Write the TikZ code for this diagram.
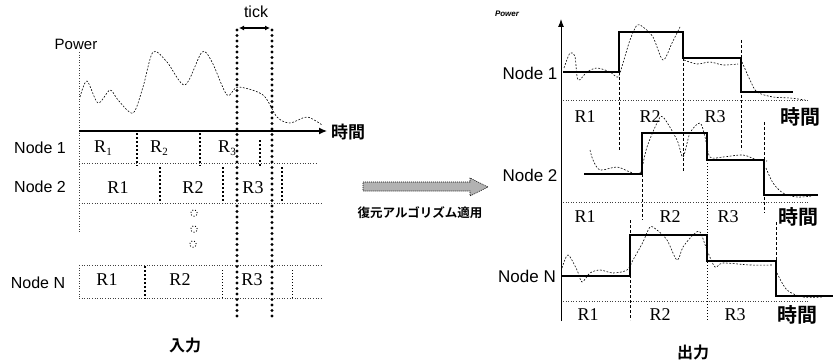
\documentclass[tikz,border=0pt]{standalone}
\usepackage{fontspec}
\setmainfont{Liberation Serif}
\setsansfont{Liberation Sans}
\newfontfamily\cjkb{Noto Sans CJK JP Bold}
\usetikzlibrary{arrows.meta}
\newcommand{\rsub}[1]{R\raisebox{-3pt}{\fontsize{11}{11}\selectfont #1}}
\begin{document}
\begin{tikzpicture}[x=1pt,y=-1pt,
  lbl/.style={font=\sffamily\fontsize{16}{18}\selectfont, inner sep=0},
  rl/.style={font=\rmfamily\fontsize{18}{20}\selectfont, inner sep=0},
  jp/.style={font=\cjkb\fontsize{17}{19}\selectfont, inner sep=0},
  jpbig/.style={font=\cjkb\fontsize{20}{22}\selectfont, inner sep=0},
  thindot/.style={line width=0.6pt, dash pattern=on 1pt off 1.6pt, black!75},
  divline/.style={line width=1.2pt, dash pattern=on 2pt off 2pt},
  tickline/.style={line width=3.4pt, dash pattern=on 0pt off 5.5pt, line cap=round},
  stepline/.style={line width=1.8pt},
  noise/.style={line width=0.6pt, dash pattern=on 1.8pt off 1.6pt},
  vdash/.style={line width=0.9pt, dash pattern=on 3pt off 2pt},
  vdot/.style={line width=0.8pt, dash pattern=on 1pt off 2pt},
  dotcirc/.style={circle, draw, dotted, line width=0.9pt, minimum size=6.5pt, inner sep=0},
]
\useasboundingbox (0,0) rectangle (833,361);

% ---------------- left panel ----------------
\node[lbl, font=\sffamily\fontsize{15}{17}\selectfont] (pw) at (76,44) {Power};
\draw[thindot] (79,52) -- (79,232);
\draw[noise] plot[smooth] coordinates {(80,97) (87,81) (98,103) (110,90) (118,100) (133,113) (143,87) (153,52) (167,62) (185,85) (202,52) (212,62) (227,95) (238,87) (263,95) (277,117) (290,123) (307,117) (322,125)};
\coordinate (ax0) at (79,131);
\coordinate (ax1) at (327,131);
\draw[line width=1.2pt, -{Latex[length=8pt,width=7pt]}] (ax0) -- (ax1);
\node[jp, anchor=west] (tL) at (331,132) {時間};

% tick
\coordinate (t1a) at (237,30); \coordinate (t1b) at (237,316);
\coordinate (t2a) at (272,30); \coordinate (t2b) at (272,316);
\draw[tickline] (t1a) -- (t1b);
\draw[tickline] (t2a) -- (t2b);
\coordinate (ta) at (239,28); \coordinate (tb) at (270,28);
\draw[line width=1.3pt, {Latex[length=5pt,width=5pt]}-{Latex[length=5pt,width=5pt]}] (ta) -- (tb);
\node[lbl] (tick) at (256,12) {tick};

% rows
\node[lbl] (n1) at (40,148) {Node 1};
\node[lbl] (n2) at (40,187) {Node 2};
\node[lbl] (nN) at (38,283) {Node N};

\draw[thindot] (79,163) -- (318,163);
\draw[thindot] (79,203) -- (323,203);
\draw[thindot] (79,265) -- (323,265);
\draw[thindot] (79,298) -- (323,298);
\draw[thindot] (79,265) -- (79,298);

\draw[divline] (137,133) -- (137,166);
\draw[divline] (200,133) -- (200,166);
\draw[divline] (260,140) -- (260,166);
\draw[divline] (160,167) -- (160,203);
\draw[divline] (223,167) -- (223,203);
\draw[divline] (282,167) -- (282,203);
\draw[divline] (145,266) -- (145,299);
\draw[vdot] (222,270) -- (222,298);
\draw[vdot] (292,270) -- (292,298);

\node[rl] (a1) at (103,148) {\rsub{1}};
\node[rl] (a2) at (159,148) {\rsub{2}};
\node[rl] (a3) at (227,148) {\rsub{3}};
\node[rl] (b1) at (118,188) {R1};
\node[rl] (b2) at (193,188) {R2};
\node[rl] (b3) at (253,188) {R3};
\node[rl] (c1) at (107,280) {R1};
\node[rl] (c2) at (180,280) {R2};
\node[rl] (c3) at (252,280) {R3};

\node[dotcirc] (o1) at (194,213) {};
\node[dotcirc] (o2) at (194,229) {};
\node[dotcirc] (o3) at (193,244) {};

\node[font=\cjkb\fontsize{16}{18}\selectfont, inner sep=0] (in) at (185,345) {入力};

% ---------------- middle arrow ----------------
\draw[line width=0.6pt, dash pattern=on 1pt off 1pt, fill=black!30]
  (363,182) -- (470,182) -- (470,178) -- (488,187) -- (470,196) -- (470,191) -- (363,191) -- cycle;
\node[font=\cjkb\fontsize{12.5}{14}\selectfont, inner sep=0] (alg) at (420,213) {復元アルゴリズム適用};

% ---------------- right panel ----------------
\node[font=\sffamily\bfseries\itshape\fontsize{8}{9}\selectfont, inner sep=0] (pw2) at (507,14) {Power};
\coordinate (y0) at (561,321);
\coordinate (y1) at (561,19);
\draw[line width=1pt, -{Latex[length=8pt,width=6pt]}] (y0) -- (y1);

\node[lbl, font=\sffamily\fontsize{17}{19}\selectfont] (m1) at (530,73) {Node 1};
\node[lbl, font=\sffamily\fontsize{17}{19}\selectfont] (m2) at (530,175) {Node 2};
\node[lbl, font=\sffamily\fontsize{17}{19}\selectfont] (mN) at (527,276) {Node N};

% Node 1
\draw[stepline] (563,72) -- (619,72) -- (619,32) -- (683,32) -- (683,58) -- (741,58) -- (741,92) -- (793,92);
\draw[noise] plot[smooth] coordinates {(564,68) (570,53) (575,57) (578,80) (587,72) (597,68) (610,72) (618,77) (623,63) (630,40) (637,25) (643,27) (653,37) (663,60) (672,43) (680,27)};
\draw[noise] plot[smooth] coordinates {(684,60) (697,64) (710,62) (723,65) (738,64)};
\draw[noise] plot[smooth] coordinates {(742,62) (750,80) (757,92) (773,97) (790,98) (805,100)};
\draw[thindot] (563,100) -- (808,100);
\draw[vdash] (619,72) -- (619,150);
\draw[vdash] (683,58) -- (683,172);
\draw[vdash] (741,40) -- (741,150);
\node[rl] (p1) at (585,117) {R1};
\node[rl] (p2) at (650,117) {R2};
\node[rl] (p3) at (715,117) {R3};
\node[jpbig] (q1) at (800,117) {時間};

% Node 2
\draw[stepline] (584,174) -- (642,174) -- (642,133) -- (707,133) -- (707,160) -- (764,160) -- (764,195) -- (818,195);
\draw[noise] plot[smooth] coordinates {(590,150) (593,160) (600,170) (617,167) (630,172) (640,173) (647,147) (657,123) (663,117) (677,140) (683,157) (690,133) (700,123) (705,137) (710,157) (723,157) (743,155) (757,160) (767,161)};
\draw[noise] plot[smooth] coordinates {(766,168) (773,183) (783,193) (797,197) (812,196)};
\draw[thindot] (563,202) -- (808,202);
\draw[vdash] (642,174) -- (642,220);
\draw[vdot] (707,160) -- (707,320);
\draw[vdash] (764,122) -- (764,213);
\node[rl] (r1) at (585,217) {R1};
\node[rl] (r2) at (670,217) {R2};
\node[rl] (r3) at (728,217) {R3};
\node[jpbig] (q2) at (798,217) {時間};

% Node N
\draw[stepline] (561,276) -- (630,276) -- (630,235) -- (707,235) -- (707,261) -- (776,261) -- (776,296) -- (833,296);
\draw[noise] plot[smooth] coordinates {(562,268) (568,255) (577,270) (582,282) (590,273) (600,270) (613,273) (627,270) (633,260) (643,242) (650,227) (657,230) (667,240) (677,260) (683,247) (693,235) (700,232) (707,250) (715,267) (723,263) (750,265) (772,265)};
\draw[noise] plot[smooth] coordinates {(777,273) (787,290) (803,297) (823,297)};
\draw[thindot] (563,301) -- (808,301);
\draw[vdash] (630,220) -- (630,320);
\draw[vdash] (776,222) -- (776,296);
\node[rl] (s1) at (588,315) {R1};
\node[rl] (s2) at (660,315) {R2};
\node[rl] (s3) at (735,315) {R3};
\node[jpbig] (q3) at (797,315) {時間};

\node[font=\cjkb\fontsize{16}{18}\selectfont, inner sep=0] (out) at (693,352) {出力};
\end{tikzpicture}
\end{document}
